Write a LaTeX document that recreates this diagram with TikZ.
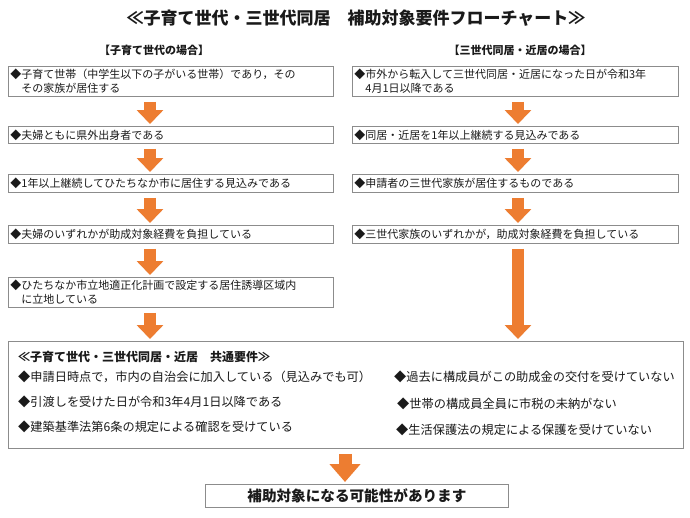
\documentclass[tikz,border=0pt]{standalone}
\usepackage{fontspec}
\setmainfont{Noto Sans CJK JP}
\usetikzlibrary{arrows.meta}
\definecolor{arrowor}{HTML}{ED7D31}
\definecolor{boxgray}{HTML}{8C8C8C}
\definecolor{txt}{HTML}{1A1A1A}
\begin{document}
\begin{tikzpicture}[x=1pt,y=-1pt,
  box/.style={draw=boxgray,line width=0.8pt,anchor=north west,inner xsep=2pt,inner ysep=0pt,
    text=txt,font=\fontsize{11}{14}\selectfont,align=left},
  lbox/.style={box,text width=321pt},
  rbox/.style={box,text width=322pt},
  hdr/.style={text=txt,font=\bfseries\fontsize{11}{13}\selectfont,inner sep=0pt},
  ctext/.style={text=txt,font=\fontsize{12.2}{14}\selectfont,anchor=west,inner sep=0pt},
  barrow/.style={draw=arrowor,line width=12pt,-{Triangle[width=26pt,length=14pt]},shorten <=5pt,shorten >=2pt},
  bigarrow/.style={draw=arrowor,line width=13pt,-{Triangle[width=30pt,length=18pt]},shorten <=5pt,shorten >=2pt},
]
\fill[white] (0,0) rectangle (690,517);
\useasboundingbox (0,0) rectangle (690,517);

\node[text=txt,font=\bfseries\fontsize{17}{19}\selectfont,inner sep=0pt] (title) at (356,18)
  {≪子育て世代・三世代同居　補助対象要件フローチャート≫};
\node[hdr] (hl) at (154,50) {【子育て世代の場合】};
\node[hdr] (hr) at (520,50) {【三世代同居・近居の場合】};

% left column
\node[lbox,minimum height=30pt] (l1) at (8,66)
  {◆子育て世帯（中学生以下の子がいる世帯）であり，その\\\hspace*{1em}その家族が居住する};
\node[lbox,minimum height=17pt] (l2) at (8,126) {◆夫婦ともに県外出身者である};
\node[lbox,minimum height=18pt] (l3) at (8,174) {◆1年以上継続してひたちなか市に居住する見込みである};
\node[lbox,minimum height=18pt] (l4) at (8,225) {◆夫婦のいずれかが助成対象経費を負担している};
\node[lbox,minimum height=30pt] (l5) at (8,277)
  {◆ひたちなか市立地適正化計画で設定する居住誘導区域内\\\hspace*{1em}に立地している};

% right column
\node[rbox,minimum height=30pt] (r1) at (352,66)
  {◆市外から転入して三世代同居・近居になった日が令和3年\\\hspace*{1em}4月1日以降である};
\node[rbox,minimum height=17pt] (r2) at (352,126) {◆同居・近居を1年以上継続する見込みである};
\node[rbox,minimum height=18pt] (r3) at (352,174) {◆申請者の三世代家族が居住するものである};
\node[rbox,minimum height=18pt] (r4) at (352,225) {◆三世代家族のいずれかが，助成対象経費を負担している};

% common box
\node[draw=boxgray,line width=0.8pt,anchor=north west,minimum width=675pt,minimum height=107pt,inner sep=0pt] (com) at (8,341) {};
\node[ctext,font=\bfseries\fontsize{12}{14}\selectfont] (ch) at (18,357) {≪子育て世代・三世代同居・近居　共通要件≫};
\node[ctext] (c1) at (18,377) {◆申請日時点で，市内の自治会に加入している（見込みでも可）};
\node[ctext] (c2) at (18,402) {◆引渡しを受けた日が令和3年4月1日以降である};
\node[ctext] (c3) at (18,427) {◆建築基準法第6条の規定による確認を受けている};
\node[ctext] (c4) at (394,377) {◆過去に構成員がこの助成金の交付を受けていない};
\node[ctext] (c5) at (397,404) {◆世帯の構成員全員に市税の未納がない};
\node[ctext] (c6) at (396,430) {◆生活保護法の規定による保護を受けていない};

% final box
\node[draw=boxgray,line width=0.8pt,anchor=north west,minimum width=303pt,minimum height=23pt,inner sep=0pt,
  text=txt,font=\bfseries\fontsize{14.6}{16}\selectfont] (fin) at (205,484) {補助対象になる可能性があります};

% arrows
\coordinate (lx) at (150,0);
\coordinate (rx) at (518,0);
\coordinate (fx) at (345,0);
\draw[barrow] (l1.south -| lx) -- (l2.north -| lx);
\draw[barrow] (l2.south -| lx) -- (l3.north -| lx);
\draw[barrow] (l3.south -| lx) -- (l4.north -| lx);
\draw[barrow] (l4.south -| lx) -- (l5.north -| lx);
\draw[barrow] (l5.south -| lx) -- (com.north -| lx);
\draw[barrow] (r1.south -| rx) -- (r2.north -| rx);
\draw[barrow] (r2.south -| rx) -- (r3.north -| rx);
\draw[barrow] (r3.south -| rx) -- (r4.north -| rx);
\draw[barrow] (r4.south -| rx) -- (com.north -| rx);
\draw[bigarrow] (com.south -| fx) -- (fin.north -| fx);
\end{tikzpicture}
\end{document}
